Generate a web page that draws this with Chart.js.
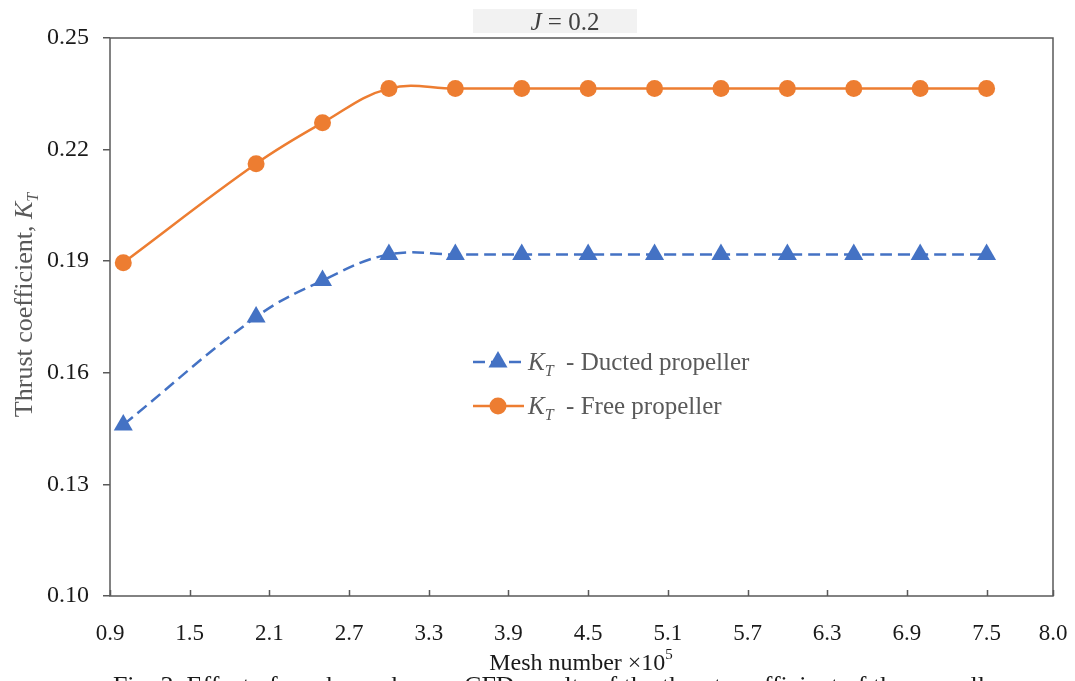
<!DOCTYPE html>
<html>
<head>
<meta charset="utf-8">
<script src="https://cdn.jsdelivr.net/npm/chart.js@4.4.1/dist/chart.umd.min.js"></script>
<style>
  html, body { margin: 0; padding: 0; background: #fff; }
  #wrap { width: 1075px; height: 681px; overflow: hidden; }
</style>
</head>
<body>
<div id="wrap"><canvas id="ktChart" width="1075" height="681"></canvas></div>
<script>
// mesh number (x 10^5) and thrust coefficient KT at J = 0.2
const meshNumbers = [1.0, 2.0, 2.5, 3.0, 3.5, 4.0, 4.5, 5.0, 5.5, 6.0, 6.5, 7.0, 7.5];
const ductedKT = [0.146, 0.175, 0.1848, 0.1918, 0.1918, 0.1918, 0.1918, 0.1918, 0.1918, 0.1918, 0.1918, 0.1918, 0.1918];
const freeKT = [0.1896, 0.2162, 0.2272, 0.2364, 0.2364, 0.2364, 0.2364, 0.2364, 0.2364, 0.2364, 0.2364, 0.2364, 0.2364];
const xTickValues = [0.9, 1.5, 2.1, 2.7, 3.3, 3.9, 4.5, 5.1, 5.7, 6.3, 6.9, 7.5, 8.0];
const yTickValues = [0.10, 0.13, 0.16, 0.19, 0.22, 0.25];

const BLUE = '#4472c4';
const ORANGE = '#ed7d31';
const SERIF = '"Liberation Serif", "Times New Roman", serif';

function toPoints(xs, ys) {
    return xs.map((x, i) => ({ x: x, y: ys[i] }));
}

// draws "K" with subscript "T" followed by plain text, returns end x
function drawKT(ctx, x, y, size, rest) {
    ctx.font = 'italic ' + size + 'px ' + SERIF;
    ctx.fillText('K', x, y);
    x += ctx.measureText('K').width;
    ctx.font = 'italic ' + Math.round(size * 0.62) + 'px ' + SERIF;
    ctx.fillText('T', x, y + size * 0.22);
    x += ctx.measureText('T').width;
    if (rest) {
        ctx.font = size + 'px ' + SERIF;
        ctx.fillText(rest, x, y);
        x += ctx.measureText(rest).width;
    }
    return x;
}

const decorPlugin = {
    id: 'decor',
    afterDraw(chart) {
        const ctx = chart.ctx;
        const area = chart.chartArea;
        const xs = chart.scales.x;
        ctx.save();

        // plot frame
        ctx.strokeStyle = '#595959';
        ctx.lineWidth = 1.5;
        ctx.strokeRect(area.left, area.top, area.right - area.left, area.bottom - area.top);

        // x tick marks point into the plot
        ctx.beginPath();
        xTickValues.forEach(v => {
            const px = Math.round(xs.getPixelForValue(v)) + 0.5;
            ctx.moveTo(px, area.bottom);
            ctx.lineTo(px, area.bottom - 6);
        });
        ctx.stroke();

        // title box
        ctx.fillStyle = '#f2f2f2';
        ctx.fillRect(473, 9, 164, 24);
        ctx.fillStyle = '#404040';
        ctx.textBaseline = 'alphabetic';
        ctx.font = 'italic 25px ' + SERIF;
        const jw = ctx.measureText('J').width;
        ctx.font = '25px ' + SERIF;
        const restTitle = ' = 0.2';
        const rw = ctx.measureText(restTitle).width;
        let tx = 565 - (jw + rw) / 2;
        ctx.font = 'italic 25px ' + SERIF;
        ctx.fillText('J', tx, 30);
        ctx.font = '25px ' + SERIF;
        ctx.fillText(restTitle, tx + jw, 30);

        // legend inside the plot
        const legendRows = [
            { ds: chart.data.datasets[0], y: 362, label: '  - Ducted propeller' },
            { ds: chart.data.datasets[1], y: 406, label: '  - Free propeller' }
        ];
        legendRows.forEach(row => {
            ctx.strokeStyle = row.ds.borderColor;
            ctx.lineWidth = row.ds.borderWidth;
            ctx.setLineDash(row.ds.borderDash || []);
            ctx.beginPath();
            ctx.moveTo(473, row.y);
            ctx.lineTo(524, row.y);
            ctx.stroke();
            ctx.setLineDash([]);
            ctx.fillStyle = row.ds.pointBackgroundColor;
            Chart.helpers.drawPoint(ctx, {
                pointStyle: row.ds.pointStyle,
                radius: row.ds.pointRadius,
                rotation: 0,
                borderWidth: 0
            }, 498, row.y);
            ctx.fillStyle = '#595959';
            drawKT(ctx, 528, row.y + 8, 25, row.label);
        });

        // y axis title
        ctx.save();
        ctx.translate(24, 305);
        ctx.rotate(-Math.PI / 2);
        ctx.fillStyle = '#595959';
        ctx.font = '26px ' + SERIF;
        const yt = 'Thrust coefficient, ';
        const ytw = ctx.measureText(yt).width;
        ctx.font = 'italic 26px ' + SERIF;
        const kw = ctx.measureText('K').width;
        ctx.font = 'italic 16px ' + SERIF;
        const tw = ctx.measureText('T').width;
        let sx = -(ytw + kw + tw) / 2;
        ctx.font = '26px ' + SERIF;
        ctx.fillText(yt, sx, 8);
        drawKT(ctx, sx + ytw, 8, 26, '');
        ctx.restore();

        // x axis title
        ctx.fillStyle = '#1a1a1a';
        ctx.font = '24px ' + SERIF;
        const xt = 'Mesh number \u00d710';
        const xtw = ctx.measureText(xt).width;
        ctx.font = '15px ' + SERIF;
        const sw = ctx.measureText('5').width;
        const xStart = 581 - (xtw + sw) / 2;
        ctx.font = '24px ' + SERIF;
        ctx.fillText(xt, xStart, 670);
        ctx.font = '15px ' + SERIF;
        ctx.fillText('5', xStart + xtw, 659);

        // figure caption, cut by the page edge
        ctx.font = '26px ' + SERIF;
        ctx.textAlign = 'center';
        ctx.fillStyle = '#1a1a1a';
        ctx.fillText('Fig. 3. Effect of mesh number on CFD results of the thrust coefficient of the propeller', 559, 694);

        ctx.restore();
    }
};

new Chart(document.getElementById('ktChart'), {
    type: 'line',
    plugins: [decorPlugin],
    data: {
        datasets: [{
            label: 'KT - Ducted propeller',
            data: toPoints(meshNumbers, ductedKT),
            borderColor: BLUE,
            backgroundColor: BLUE,
            borderWidth: 2.5,
            borderDash: [12, 6],
            pointStyle: 'triangle',
            pointRadius: 11,
            pointBackgroundColor: BLUE,
            pointBorderWidth: 0,
            tension: 0.4
        }, {
            label: 'KT - Free propeller',
            data: toPoints(meshNumbers, freeKT),
            borderColor: ORANGE,
            backgroundColor: ORANGE,
            borderWidth: 2.5,
            pointStyle: 'circle',
            pointRadius: 8.5,
            pointBackgroundColor: ORANGE,
            pointBorderWidth: 0,
            tension: 0.4
        }]
    },
    options: {
        responsive: false,
        animation: false,
        layout: {
            padding: { top: 38, right: 22, left: 0, bottom: 0 }
        },
        plugins: {
            legend: { display: false },
            tooltip: { enabled: false }
        },
        scales: {
            x: {
                type: 'linear',
                min: 0.9,
                max: 8.0,
                afterBuildTicks: scale => {
                    scale.ticks = xTickValues.map(v => ({ value: v }));
                },
                afterFit: scale => {
                    scale.height = 85;
                    scale.paddingLeft = 0;
                    scale.paddingRight = 0;
                },
                grid: { display: false },
                border: { display: false },
                ticks: {
                    autoSkip: false,
                    maxRotation: 0,
                    padding: 16,
                    color: '#1a1a1a',
                    font: { family: SERIF, size: 23 },
                    callback: v => v.toFixed(1)
                }
            },
            y: {
                min: 0.10,
                max: 0.25,
                afterBuildTicks: scale => {
                    scale.ticks = yTickValues.map(v => ({ value: v }));
                },
                afterFit: scale => {
                    scale.width = 110;
                    scale.paddingTop = 0;
                    scale.paddingBottom = 0;
                },
                grid: {
                    drawOnChartArea: false,
                    drawTicks: true,
                    tickLength: 7,
                    color: '#595959',
                    lineWidth: 1.5
                },
                border: { display: false },
                ticks: {
                    padding: 14,
                    color: '#1a1a1a',
                    font: { family: SERIF, size: 24 },
                    callback: v => v.toFixed(2)
                }
            }
        }
    }
});
</script>
</body>
</html>
